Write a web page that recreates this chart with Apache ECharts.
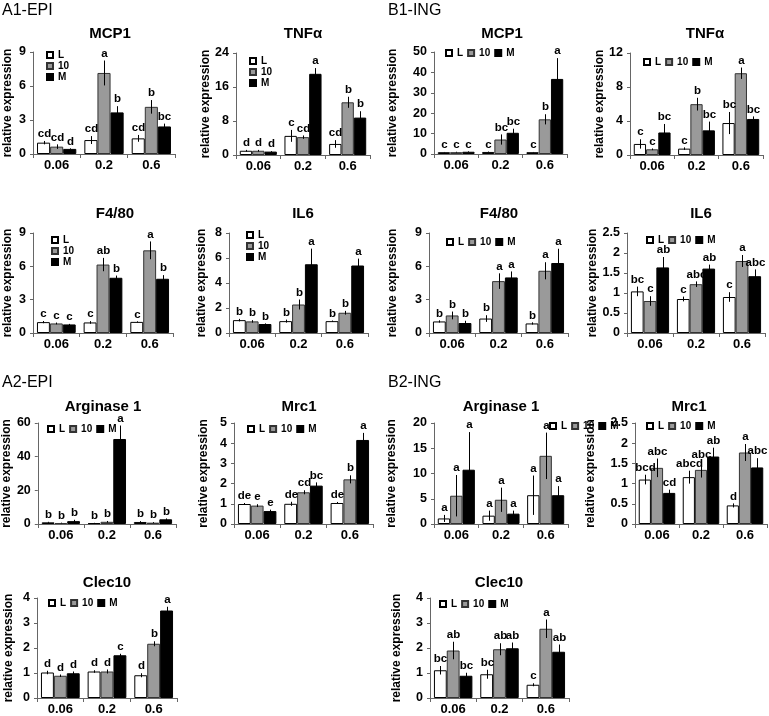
<!DOCTYPE html>
<html><head><meta charset="utf-8">
<script src="https://cdn.jsdelivr.net/npm/echarts/dist/echarts.min.js"></script>
<style>html,body{margin:0;padding:0;background:#fff}#c{width:769px;height:716px}</style>
</head><body><div id="c"></div>
<script>
// ---------- data ----------
const categories = ['0.06', '0.2', '0.6'];
const seriesNames = ['L', '10', 'M'];
const yAxisName = 'relative expression';

// each *_mean / *_err / *_sig: rows = L, 10, M ; columns = categories
const A1_MCP1_mean = [[1.0, 1.23, 1.38], [0.65, 7.15, 4.16], [0.45, 3.67, 2.43]];
const A1_MCP1_err  = [[0.15, 0.35, 0.3], [0.2, 1.1, 0.6], [0.05, 0.55, 0.25]];
const A1_MCP1_sig  = [['cd', 'cd', 'cd'], ['cd', 'a', 'b'], ['d', 'b', 'bc']];

const A1_TNF_mean = [[1.0, 4.5, 2.6], [1.0, 4.2, 12.4], [0.8, 19.1, 8.8]];
const A1_TNF_err  = [[0.2, 1.4, 0.9], [0.2, 0.4, 1.3], [0.1, 1.35, 1.5]];
const A1_TNF_sig  = [['d', 'c', 'cd'], ['d', 'cd', 'b'], ['d', 'a', 'b']];

const B1_MCP1_mean = [[0.9, 1.0, 0.9], [0.9, 7.1, 17.0], [1.1, 10.4, 36.8]];
const B1_MCP1_err  = [[0.1, 0.2, 0.1], [0.2, 2.5, 2.5], [0.2, 2.0, 10.2]];
const B1_MCP1_sig  = [['c', 'c', 'c'], ['c', 'bc', 'b'], ['c', 'bc', 'a']];

const B1_TNF_mean = [[1.3, 0.75, 3.76], [0.67, 5.98, 9.62], [2.65, 2.9, 4.24]];
const B1_TNF_err  = [[0.55, 0.15, 1.3], [0.1, 0.75, 0.67], [1.0, 1.03, 0.3]];
const B1_TNF_sig  = [['c', 'c', 'bc'], ['c', 'b', 'a'], ['bc', 'bc', 'bc']];

const A1_F480_mean = [[0.98, 0.95, 1.0], [0.86, 6.16, 7.44], [0.77, 4.97, 4.88]];
const A1_F480_err  = [[0.1, 0.12, 0.05], [0.08, 0.6, 0.8], [0.05, 0.2, 0.33]];
const A1_F480_sig  = [['c', 'c', 'c'], ['c', 'ab', 'a'], ['c', 'b', 'b']];

const A1_IL6_mean = [[1.03, 0.95, 0.95], [0.93, 2.28, 1.62], [0.72, 5.5, 5.4]];
const A1_IL6_err  = [[0.1, 0.12, 0.05], [0.1, 0.4, 0.15], [0.05, 1.25, 0.55]];
const A1_IL6_sig  = [['b', 'b', 'b'], ['b', 'b', 'b'], ['b', 'a', 'a']];

const B1_F480_mean = [[1.04, 1.3, 0.86], [1.58, 4.67, 5.6], [0.9, 5.0, 6.3]];
const B1_F480_err  = [[0.1, 0.3, 0.1], [0.35, 0.7, 0.77], [0.2, 0.54, 1.28]];
const B1_F480_sig  = [['b', 'b', 'b'], ['b', 'a', 'a'], ['b', 'a', 'a']];

const B1_IL6_mean = [[1.04, 0.85, 0.9], [0.8, 1.22, 1.8], [1.64, 1.61, 1.42]];
const B1_IL6_err  = [[0.12, 0.06, 0.12], [0.12, 0.07, 0.15], [0.26, 0.1, 0.17]];
const B1_IL6_sig  = [['bc', 'c', 'c'], ['c', 'abc', 'a'], ['ab', 'ab', 'abc']];

const A2_ARG_mean = [[1.0, 0.5, 1.2], [0.6, 1.3, 0.8], [1.7, 50.5, 2.8]];
const A2_ARG_err  = [[0.3, 0.2, 0.5], [0.2, 0.5, 0.3], [0.8, 8.0, 0.5]];
const A2_ARG_sig  = [['b', 'b', 'b'], ['b', 'b', 'b'], ['b', 'a', 'b']];

const A2_MRC_mean = [[0.99, 1.0, 1.04], [0.91, 1.57, 2.21], [0.64, 1.9, 4.16]];
const A2_MRC_err  = [[0.05, 0.1, 0.05], [0.07, 0.1, 0.2], [0.07, 0.16, 0.35]];
const A2_MRC_sig  = [['de', 'de', 'de'], ['e', 'cd', 'b'], ['e', 'bc', 'a']];

const B2_ARG_mean = [[1.1, 1.65, 5.7], [5.6, 4.8, 13.5], [10.75, 2.05, 5.7]];
const B2_ARG_err  = [[0.7, 1.0, 3.9], [4.1, 2.4, 4.6], [7.45, 0.6, 1.8]];
const B2_ARG_sig  = [['a', 'a', 'a'], ['a', 'a', 'a'], ['a', 'a', 'a']];

const B2_MRC_mean = [[1.1, 1.16, 0.46], [1.39, 1.34, 1.77], [0.77, 1.67, 1.4]];
const B2_MRC_err  = [[0.12, 0.16, 0.05], [0.23, 0.19, 0.21], [0.08, 0.22, 0.23]];
const B2_MRC_sig  = [['bcd', 'abcd', 'd'], ['abc', 'abc', 'a'], ['cd', 'ab', 'abc']];

const A2_CLEC_mean = [[1.02, 1.06, 0.91], [0.89, 1.06, 2.17], [0.99, 1.71, 3.5]];
const A2_CLEC_err  = [[0.07, 0.05, 0.08], [0.05, 0.08, 0.1], [0.07, 0.06, 0.15]];
const A2_CLEC_sig  = [['d', 'd', 'd'], ['d', 'd', 'b'], ['d', 'c', 'a']];

const B2_CLEC_mean = [[1.11, 0.95, 0.53], [1.9, 1.95, 2.77], [0.89, 1.99, 1.85]];
const B2_CLEC_err  = [[0.17, 0.18, 0.06], [0.35, 0.24, 0.37], [0.12, 0.23, 0.29]];
const B2_CLEC_sig  = [['bc', 'bc', 'c'], ['ab', 'ab', 'a'], ['bc', 'ab', 'ab']];

const panelTitles = ['MCP1', 'TNF\u03b1', 'MCP1', 'TNF\u03b1', 'F4/80', 'IL6', 'F4/80', 'IL6',
  'Arginase 1', 'Mrc1', 'Arginase 1', 'Mrc1', 'Clec10', 'Clec10'];
const yAxisMax  = [9, 24, 50, 12, 9, 8, 9, 2.5, 60, 5, 20, 2.5, 4, 4];
const yAxisStep = [3, 8, 10, 4, 3, 2, 3, 0.5, 20, 1, 5, 0.5, 1, 1];
const sectionLabels = ['A1-EPI', 'B1-ING', 'A2-EPI', 'B2-ING'];

const panelData = [
  [A1_MCP1_mean, A1_MCP1_err, A1_MCP1_sig], [A1_TNF_mean, A1_TNF_err, A1_TNF_sig],
  [B1_MCP1_mean, B1_MCP1_err, B1_MCP1_sig], [B1_TNF_mean, B1_TNF_err, B1_TNF_sig],
  [A1_F480_mean, A1_F480_err, A1_F480_sig], [A1_IL6_mean, A1_IL6_err, A1_IL6_sig],
  [B1_F480_mean, B1_F480_err, B1_F480_sig], [B1_IL6_mean, B1_IL6_err, B1_IL6_sig],
  [A2_ARG_mean, A2_ARG_err, A2_ARG_sig], [A2_MRC_mean, A2_MRC_err, A2_MRC_sig],
  [B2_ARG_mean, B2_ARG_err, B2_ARG_sig], [B2_MRC_mean, B2_MRC_err, B2_MRC_sig],
  [A2_CLEC_mean, A2_CLEC_err, A2_CLEC_sig], [B2_CLEC_mean, B2_CLEC_err, B2_CLEC_sig]
];

// ---------- layout (positions / styles) ----------
// grid: [left, top, width, height]; title centre [x, y]; nameGap; legend [left, top, orient]
const layout = [
  {g: [33, 52, 142, 102], t: [110, 34], ng: 19, lg: [46, 50, 'vertical']},
  {g: [236, 53, 134, 102], t: [303, 34], ng: 20, lg: [249, 56, 'vertical']},
  {g: [434, 52, 133, 102], t: [502, 34], ng: 35, lg: [445, 48, 'horizontal']},
  {g: [630, 53, 133, 102], t: [705, 34], ng: 12, lg: [643, 57, 'horizontal']},
  {g: [33, 233, 140, 100], t: [115, 214], ng: 19, lg: [51, 235, 'vertical']},
  {g: [229, 233, 139, 100], t: [303, 214], ng: 21, lg: [246, 230, 'vertical']},
  {g: [429, 233, 139, 100], t: [499, 214], ng: 30, lg: [446, 237, 'horizontal']},
  {g: [627, 233, 138, 100], t: [701, 214], ng: 18, lg: [646, 235, 'horizontal']},
  {g: [37, 423, 139, 101], t: [103, 407], ng: 24, lg: [47, 424, 'horizontal']},
  {g: [234, 423, 139, 101], t: [299, 407], ng: 24, lg: [247, 424, 'horizontal']},
  {g: [434, 423, 134, 101], t: [501, 407], ng: 36, lg: [549, 421, 'horizontal']},
  {g: [635, 423, 132, 101], t: [689, 407], ng: 38, lg: [646, 421, 'horizontal']},
  {g: [37, 598, 140, 101], t: [107, 583], ng: 22, lg: [48, 598, 'horizontal']},
  {g: [430, 598, 139, 101], t: [499, 583], ng: 27, lg: [439, 599, 'horizontal']}
];
const sectionPos = [[2, 11], [388, 11], [2, 383], [388, 383]];

const FONT = '"Liberation Sans", Arial, Helvetica, sans-serif';
const BAR_GAP = 0.17;
const barStyles = [
  {color: '#ffffff', borderColor: '#000000', borderWidth: 1},
  {color: '#9a9a9a', borderColor: '#333333', borderWidth: 1},
  {color: '#000000', borderColor: '#000000', borderWidth: 1}
];

const grid = [], xAxis = [], yAxis = [], series = [], legend = [], graphic = [];

layout.forEach((L, pi) => {
  const [mean, err, sig] = panelData[pi];
  grid.push({left: L.g[0], top: L.g[1], width: L.g[2], height: L.g[3], containLabel: false});
  xAxis.push({
    type: 'category', gridIndex: pi, data: categories,
    axisLine: {show: true, lineStyle: {color: '#666', width: 1}},
    axisTick: {show: true, length: 4, alignWithLabel: false, lineStyle: {color: '#666'}},
    axisLabel: {fontSize: 13, fontWeight: 'bold', color: '#000', fontFamily: FONT, margin: 5}
  });
  yAxis.push({
    type: 'value', gridIndex: pi, min: 0, max: yAxisMax[pi], interval: yAxisStep[pi],
    splitLine: {show: false},
    axisLine: {show: true, lineStyle: {color: '#666', width: 1}},
    axisTick: {show: true, length: 3, lineStyle: {color: '#666'}},
    axisLabel: {fontSize: 12.5, fontWeight: 'bold', color: '#000', fontFamily: FONT, margin: 7},
    name: yAxisName, nameLocation: 'middle', nameGap: L.ng,
    nameTextStyle: {fontSize: 12, fontWeight: 'bold', color: '#000', fontFamily: FONT}
  });
  for (let k = 0; k < 3; k++) {
    series.push({
      type: 'bar', name: seriesNames[k], xAxisIndex: pi, yAxisIndex: pi,
      data: mean[k], barGap: '0%', barCategoryGap: (BAR_GAP * 100) + '%',
      itemStyle: barStyles[k], animation: false, z: 2
    });
  }
  const eb = [];
  for (let k = 0; k < 3; k++) for (let i = 0; i < 3; i++) eb.push([i, mean[k][i], err[k][i], k]);
  series.push({
    type: 'custom', xAxisIndex: pi, yAxisIndex: pi, data: eb, z: 5, animation: false,
    encode: {x: 0, y: 1}, silent: true,
    renderItem: (params, api) => {
      const i = api.value(0), m = api.value(1), e = api.value(2), k = api.value(3);
      const top = api.coord([i, m + e]);
      const bot = api.coord([i, Math.max(0, m - e)]);
      const bw = api.size([1, 0])[0];
      const barW = bw * (1 - BAR_GAP) / 3;
      const x = Math.round(top[0] + (k - 1) * barW) + 0.5;
      return {type: 'group', children: [
        {type: 'line', shape: {x1: x, y1: top[1], x2: x, y2: bot[1]}, style: {stroke: '#000', lineWidth: 1}},
        {type: 'text', x: x, y: top[1] - 1, style: {text: sig[k][i], align: 'center', verticalAlign: 'bottom',
          font: 'bold 11.5px ' + FONT, fill: '#000'}}
      ]};
    }
  });
  legend.push({
    orient: L.lg[2], left: L.lg[0], top: L.lg[1], padding: 0, icon: 'rect',
    itemWidth: 6, itemHeight: 6, itemGap: L.lg[2] === 'vertical' ? 1 : 4,
    selectedMode: false, data: seriesNames,
    textStyle: {fontSize: 10, fontWeight: 'bold', color: '#000', fontFamily: FONT, lineHeight: 10}
  });
  graphic.push({type: 'text', x: L.t[0], y: L.t[1], silent: true,
    style: {text: panelTitles[pi], align: 'center', verticalAlign: 'middle', font: 'bold 15px ' + FONT, fill: '#000'}});
});
sectionLabels.forEach((s, i) => {
  graphic.push({type: 'text', x: sectionPos[i][0], y: sectionPos[i][1], silent: true,
    style: {text: s, align: 'left', verticalAlign: 'middle', font: '16px ' + FONT, fill: '#000'}});
});

const chart = echarts.init(document.getElementById('c'), null, {renderer: 'canvas'});
chart.setOption({animation: false, backgroundColor: '#fff', grid, xAxis, yAxis, series, legend, graphic});
</script></body></html>
